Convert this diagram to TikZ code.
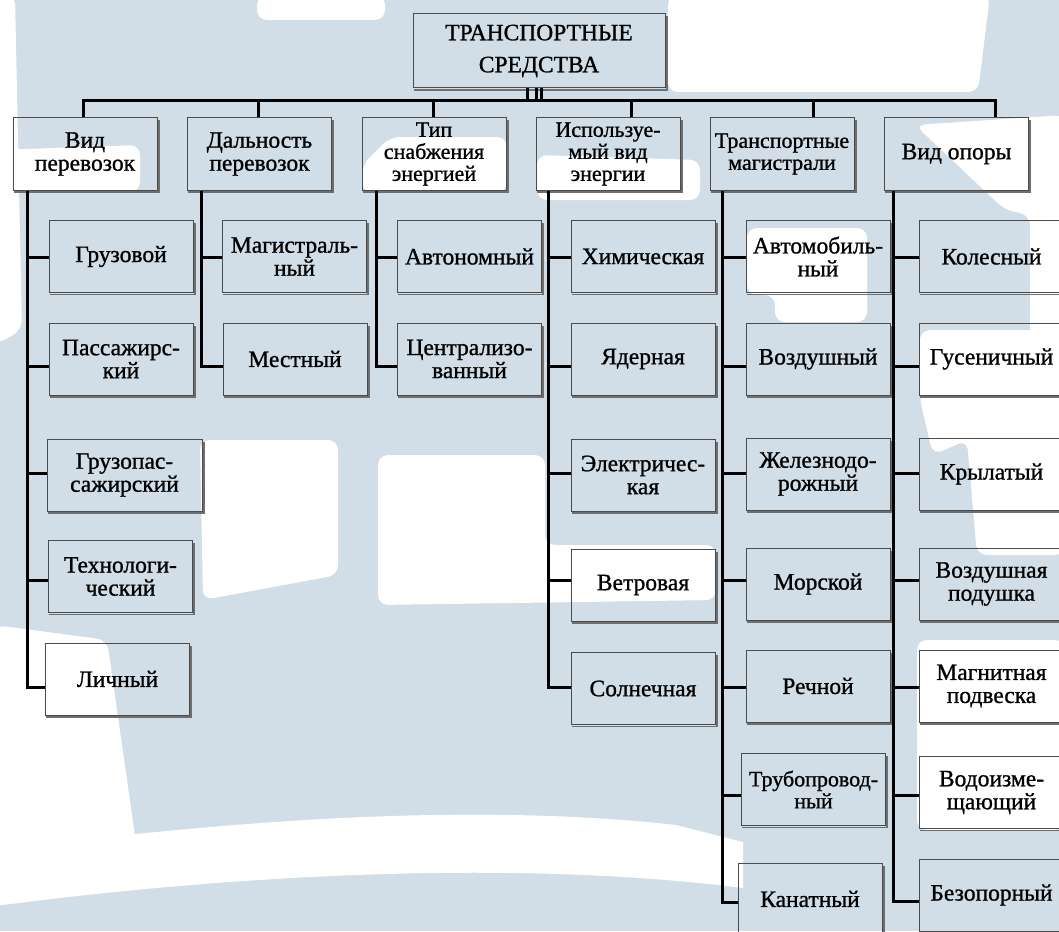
\documentclass[tikz,border=0pt]{standalone}
\usepackage{fontspec}
\setmainfont{Liberation Serif}
\newfontfamily\rusf[AutoFakeBold=1.0]{Liberation Serif}
\definecolor{wm}{RGB}{209,221,231}
\definecolor{boxc}{RGB}{75,75,75}
\definecolor{shdc}{RGB}{110,110,110}
\begin{document}
\begin{tikzpicture}[x=1pt,y=-1pt,
  box/.style={draw=boxc, line width=1pt, minimum width=144pt, minimum height=72pt,
    inner sep=0pt, align=center, font=\rusf\bfseries\fontsize{23.5}{23}\selectfont},
  topbox/.style={box, minimum width=252pt, minimum height=74pt, font=\rusf\bfseries\fontsize{23.5}{32}\selectfont},
  narrow/.style={font=\rusf\bfseries\fontsize{22}{22}\selectfont},
  conn/.style={line width=3pt, black, line join=miter},
  shd/.style={line width=1.8pt, shdc},
  wmw/.style={fill=white, rounded corners=10pt}]
\useasboundingbox (0,0) rectangle (1059,931);
% watermark background
\fill[wm] (0,0) rectangle (1059,931);
\fill[wmw] (668,-5) -- (990,-5) -- (978,92) -- (668,92) -- cycle;
\fill[wmw] (257,-5) -- (385,-5) -- (385,20) -- (257,20) -- cycle;
\fill[wmw] (-5,-5) -- (15,-5) -- (22,330) -- (-5,345) -- cycle;
\fill[wmw] (-5,150) -- (140,145) -- (140,192) -- (-5,192) -- cycle;
\fill[wmw] (390,137) -- (507,137) -- (507,192) -- (362,192) -- (362,165) -- cycle;
\fill[wmw] (537,155) -- (700,160) -- (700,200) -- (537,200) -- cycle;
\fill[wmw] (915,125) -- (1065,115) -- (1065,410) -- (1030,410) -- (1030,215) -- (1005,210) -- cycle;
\fill[wmw] (747,228) -- (867,228) -- (867,322) -- (775,322) -- (775,295) -- (747,295) -- cycle;
\fill[wmw] (920,330) -- (1065,330) -- (1065,555) -- (977,555) -- (967,440) -- (933,455) -- (920,400) -- cycle;
\fill[wmw] (200,440) -- (338,440) -- (338,575) -- (203,600) -- cycle;
\fill[wmw] (378,455) -- (545,455) -- (545,545) -- (716,545) -- (716,600) -- (378,605) -- cycle;
\fill[wmw] (-5,625) -- (107,640) -- (137,850) -- (-5,850) -- cycle;
\fill[white] (-5,850) .. controls (200,825) and (450,800) .. (676,825) -- (743,842) -- (743,888) .. controls (540,862) and (270,870) .. (-5,906) -- cycle;
\fill[wmw] (917,640) -- (1065,640) -- (1065,830) -- (917,830) -- cycle;
% boxes
\node[topbox] (top) at (539,51) {ТРАНСПОРТНЫЕ\\СРЕДСТВА};
\node[box] (vp) at (85,154) {Вид\\перевозок};
\node[box] (dp) at (259.5,154) {Дальность\\перевозок};
\node[box, narrow] (ts) at (434,154) {Тип\\снабжения\\энергией};
\node[box, narrow] (ie) at (608,154) {Используе-\\мый вид\\энергии};
\node[box, narrow] (tm) at (782,154) {Транспортные\\магистрали};
\node[box] (vo) at (956.5,154) {Вид опоры};
\node[box] (g11) at (121,256.5) {Грузовой};
\node[box] (g12) at (121,359) {Пассажирс-\\кий};
\node[box, minimum width=155pt] (g13) at (124.5,475) {Грузопас-\\сажирский};
\node[box] (g14) at (120.5,576.5) {Технологи-\\ческий};
\node[box] (g15) at (117.5,679) {Личный};
\node[box] (g21) at (294.5,256.5) {Магистраль-\\ный};
\node[box] (g22) at (295,359) {Местный};
\node[box] (g31) at (469.5,256.5) {Автономный};
\node[box] (g32) at (469.5,359) {Централизо-\\ванный};
\node[box] (g41) at (643,256.5) {Химическая};
\node[box] (g42) at (643,359) {Ядерная};
\node[box] (g43) at (643,475) {Электричес-\\кая};
\node[box] (g44) at (643,585) {Ветровая};
\node[box] (g45) at (643,688.5) {Солнечная};
\node[box] (g51) at (818,256.5) {Автомобиль-\\ный};
\node[box] (g52) at (818,359) {Воздушный};
\node[box] (g53) at (818,474) {Железнодо-\\рожный};
\node[box] (g54) at (818,584) {Морской};
\node[box] (g55) at (818,686) {Речной};
\node[box, narrow] (g56) at (813.5,789.5) {Трубопровод-\\ный};
\node[box] (g57) at (810,899) {Канатный};
\node[box] (g61) at (991.5,256.5) {Колесный};
\node[box] (g62) at (991.5,359) {Гусеничный};
\node[box] (g63) at (991.5,474) {Крылатый};
\node[box] (g64) at (991.5,584) {Воздушная\\подушка};
\node[box] (g65) at (991.5,686) {Магнитная\\подвеска};
\node[box] (g66) at (991.5,792.5) {Водоизме-\\щающий};
\node[box] (g67) at (991.5,895) {Безопорный};
% shadows
\foreach \n in {top,vp,dp,ts,ie,tm,vo,g11,g12,g13,g14,g15,g21,g22,g31,g32,g41,g42,g43,g44,g45,g51,g52,g53,g54,g55,g56,g57,g61,g62,g63,g64,g65,g66,g67}
  \draw[shd] ([shift={(1pt,-1.5pt)}]\n.south west) -- ([shift={(1.2pt,-1.5pt)}]\n.south east) -- ([shift={(1.2pt,-3pt)}]\n.north east);
% top connector and bus
\coordinate (bus) at (539,101);
\coordinate (tA) at ([xshift=-12pt]top.south);
\coordinate (tB) at ([xshift=-3pt]top.south);
\coordinate (tC) at ([xshift=2pt]top.south);
\draw[conn] (tA) -- (tA |- bus);
\draw[conn] (tB) -- (tB |- bus);
\draw[conn] (tC) -- (tC |- bus);
\coordinate (vpT) at ([xshift=-2pt]vp.north);
\coordinate (voT) at ([xshift=38.5pt]vo.north);
\draw[conn] (vpT) |- (bus) -| (voT);
\coordinate (dpT) at ([xshift=-1.5pt]dp.north);
\coordinate (tsT) at ([xshift=-1pt]ts.north);
\coordinate (ieT) at ([xshift=23pt]ie.north);
\coordinate (tmT) at ([xshift=31pt]tm.north);
\foreach \c in {dpT,tsT,ieT,tmT} \draw[conn] (\c) -- (\c |- bus);
% trunks
\coordinate (k1) at ([xshift=-58pt]vp.south);
\coordinate (k2) at ([xshift=-58.5pt]dp.south);
\coordinate (k3) at ([xshift=-58pt]ts.south);
\coordinate (k4) at ([xshift=-60pt]ie.south);
\coordinate (k5) at ([xshift=-60pt]tm.south);
\coordinate (k6) at ([xshift=-63.5pt]vo.south);
% stub points
\coordinate (s11) at ([yshift=-1pt]g11.west);
\coordinate (s12) at ([yshift=-7pt]g12.west);
\coordinate (s13) at ([yshift=2pt]g13.west);
\coordinate (s14) at ([yshift=-3.5pt]g14.west);
\coordinate (s15) at ([yshift=-8pt]g15.west);
\coordinate (s21) at ([yshift=-1pt]g21.west);
\coordinate (s22) at ([yshift=-7pt]g22.west);
\coordinate (s31) at ([yshift=-1pt]g31.west);
\coordinate (s32) at ([yshift=-7pt]g32.west);
\coordinate (s41) at ([yshift=-1pt]g41.west);
\coordinate (s42) at ([yshift=-7pt]g42.west);
\coordinate (s43) at ([yshift=2pt]g43.west);
\coordinate (s44) at ([yshift=5pt]g44.west);
\coordinate (s45) at ([yshift=1.5pt]g45.west);
\coordinate (s51) at ([yshift=-1pt]g51.west);
\coordinate (s52) at ([yshift=-7pt]g52.west);
\coordinate (s53) at ([yshift=1pt]g53.west);
\coordinate (s54) at ([yshift=4pt]g54.west);
\coordinate (s55) at ([yshift=-1pt]g55.west);
\coordinate (s56) at ([yshift=-5.5pt]g56.west);
\coordinate (s57) at ([yshift=-3pt]g57.west);
\coordinate (s61) at ([yshift=-1pt]g61.west);
\coordinate (s62) at ([yshift=-7pt]g62.west);
\coordinate (s63) at ([yshift=1pt]g63.west);
\coordinate (s64) at ([yshift=4pt]g64.west);
\coordinate (s65) at ([yshift=-1pt]g65.west);
\coordinate (s66) at ([yshift=-2.5pt]g66.west);
\coordinate (s67) at ([yshift=-6pt]g67.west);
\draw[conn] (k1) |- (s15);
\foreach \s in {s11,s12,s13,s14} \draw[conn] (\s) -- (\s -| k1);
\draw[conn] (k2) |- (s22);
\draw[conn] (s21) -- (s21 -| k2);
\draw[conn] (k3) |- (s32);
\draw[conn] (s31) -- (s31 -| k3);
\draw[conn] (k4) |- (s45);
\foreach \s in {s41,s42,s43,s44} \draw[conn] (\s) -- (\s -| k4);
\draw[conn] (k5) |- (s57);
\foreach \s in {s51,s52,s53,s54,s55,s56} \draw[conn] (\s) -- (\s -| k5);
\draw[conn] (k6) |- (s67);
\foreach \s in {s61,s62,s63,s64,s65,s66} \draw[conn] (\s) -- (\s -| k6);
\end{tikzpicture}
\end{document}
